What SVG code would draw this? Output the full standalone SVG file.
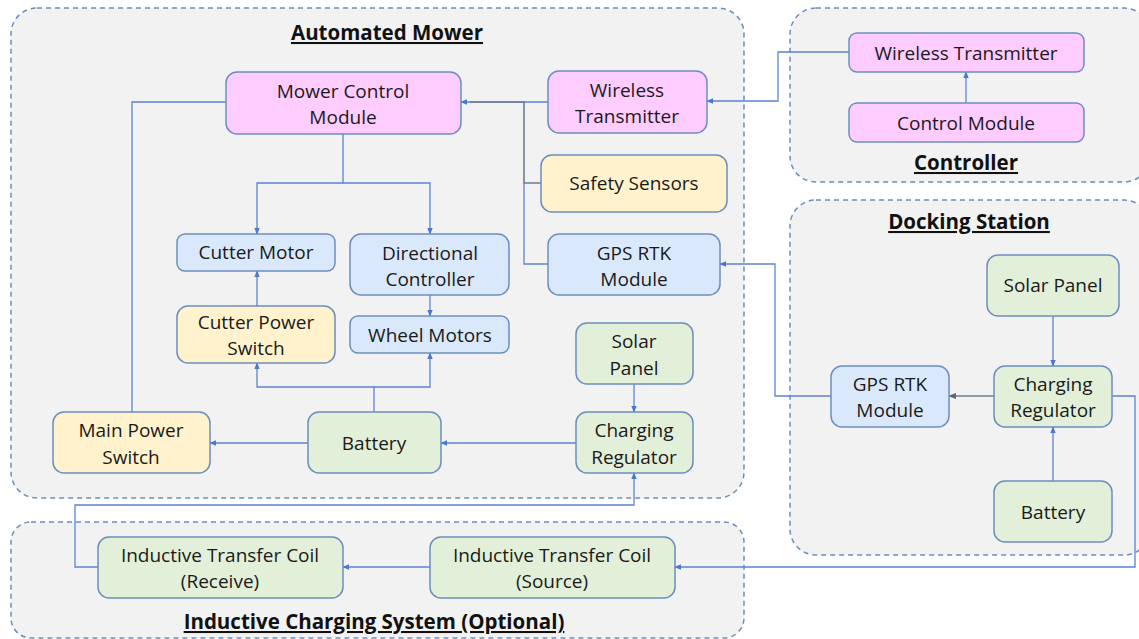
<svg xmlns="http://www.w3.org/2000/svg" width="1139" height="639" viewBox="0 0 1139 639">
<defs>
<style>
.grp{fill:#f2f2f2;stroke:#6c8ebf;stroke-width:1.5;stroke-dasharray:5 4}
.n{stroke:#6c8ebf;stroke-width:1.5}
.pink{fill:#ffccff}
.blue{fill:#dae8fc}
.yel{fill:#fff2cc}
.grn{fill:#e2efd9}
.t{font-family:"Open Sans","Liberation Sans",sans-serif;font-size:19px;fill:#1a1a1a;text-anchor:middle}
.h{font-family:"Open Sans","Liberation Sans",sans-serif;font-size:20.5px;font-weight:bold;fill:#111;text-anchor:middle;text-decoration:underline}
.c{fill:none;stroke:#5b84d0;stroke-width:1.3}
.g{fill:none;stroke:#6b7b95;stroke-width:1.6}
</style>
<marker id="a" viewBox="0 0 10 10" refX="9" refY="5" markerWidth="7" markerHeight="7" orient="auto-start-reverse" markerUnits="userSpaceOnUse"><path d="M0,1 L10,5 L0,9 z" fill="#4a78cc"/></marker>
<marker id="ag" viewBox="0 0 10 10" refX="9" refY="5" markerWidth="8" markerHeight="8" orient="auto" markerUnits="userSpaceOnUse"><path d="M0,1 L10,5 L0,9 z" fill="#5a6578"/></marker>
</defs>
<rect width="1139" height="639" fill="#ffffff"/>

<g id="containers">
<rect class="grp" x="11" y="8" width="733" height="490" rx="26"/>
<text class="h" x="387" y="40">Automated Mower</text>
<rect class="grp" x="790" y="8" width="360" height="174" rx="26"/>
<text class="h" x="966" y="170">Controller</text>
<rect class="grp" x="790" y="200" width="360" height="355" rx="26"/>
<text class="h" x="969" y="229">Docking Station</text>
<rect class="grp" x="11" y="522" width="733" height="116" rx="20"/>
<text class="h" x="374" y="629">Inductive Charging System (Optional)</text>
</g>

<g id="connectors">
<polyline class="c" points="849,52 778,52 778,101 707,101" marker-end="url(#a)"/>
<polyline class="c" points="548,102 461,102" marker-end="url(#a)"/>
<polyline class="g" points="541,183 524,183 524,102 470,102"/>
<polyline class="c" points="548,264 524,264 524,183"/>
<polyline class="c" points="343,134 343,183 257,183 257,234" marker-end="url(#a)"/>
<polyline class="c" points="343,183 430,183 430,234" marker-end="url(#a)"/>
<polyline class="c" points="430,295 430,316" marker-end="url(#a)"/>
<polyline class="c" points="257,306 257,271" marker-end="url(#a)"/>
<polyline class="c" points="374,412 374,387 257,387 257,363" marker-end="url(#a)"/>
<polyline class="c" points="374,387 430,387 430,353" marker-end="url(#a)"/>
<polyline class="c" points="308,443 210,443" marker-end="url(#a)"/>
<polyline class="c" points="576,443 441,443" marker-end="url(#a)"/>
<polyline class="c" points="634,384 634,412" marker-end="url(#a)"/>
<polyline class="c" points="132,412 132,102 226,102"/>
<polyline class="c" points="98,567 75,567 75,505 634,505 634,473" marker-end="url(#a)"/>
<polyline class="c" points="430,567 343,567" marker-end="url(#a)"/>
<polyline class="c" points="1112,396 1135,396 1135,567 675,567" marker-end="url(#a)"/>
<polyline class="g" points="994,396 949,396" marker-end="url(#ag)"/>
<polyline class="c" points="831,396 775,396 775,264 720,264" marker-end="url(#a)"/>
<polyline class="c" points="1053,316 1053,366" marker-end="url(#a)"/>
<polyline class="c" points="1053,481 1053,427" marker-end="url(#a)"/>
<polyline class="c" points="966,103 966,72" marker-end="url(#a)"/>
</g>

<g id="mower-control-module"><rect class="n pink" x="226" y="72" width="235" height="62" rx="11"/><text class="t" x="343" y="98">Mower Control</text><text class="t" x="343" y="124">Module</text></g>
<g id="mower-wireless-transmitter"><rect class="n pink" x="548" y="71" width="159" height="62" rx="11"/><text class="t" x="627" y="97">Wireless</text><text class="t" x="627" y="123">Transmitter</text></g>
<g id="safety-sensors"><rect class="n yel" x="541" y="155" width="186" height="57" rx="11"/><text class="t" x="634" y="190">Safety Sensors</text></g>
<g id="mower-gps"><rect class="n blue" x="548" y="234" width="172" height="61" rx="11"/><text class="t" x="634" y="260">GPS RTK</text><text class="t" x="634" y="286">Module</text></g>
<g id="cutter-motor"><rect class="n blue" x="177" y="234" width="158" height="37" rx="8"/><text class="t" x="256" y="259">Cutter Motor</text></g>
<g id="directional-controller"><rect class="n blue" x="350" y="234" width="159" height="61" rx="11"/><text class="t" x="430" y="260">Directional</text><text class="t" x="430" y="286">Controller</text></g>
<g id="cutter-power-switch"><rect class="n yel" x="177" y="306" width="158" height="57" rx="11"/><text class="t" x="256" y="329">Cutter Power</text><text class="t" x="256" y="355">Switch</text></g>
<g id="wheel-motors"><rect class="n blue" x="350" y="316" width="159" height="37" rx="8"/><text class="t" x="430" y="342">Wheel Motors</text></g>
<g id="mower-solar-panel"><rect class="n grn" x="576" y="323" width="117" height="61" rx="11"/><text class="t" x="634" y="348">Solar</text><text class="t" x="634" y="375">Panel</text></g>
<g id="main-power-switch"><rect class="n yel" x="53" y="412" width="157" height="61" rx="11"/><text class="t" x="131" y="437">Main Power</text><text class="t" x="131" y="464">Switch</text></g>
<g id="mower-battery"><rect class="n grn" x="308" y="412" width="133" height="61" rx="11"/><text class="t" x="374" y="450">Battery</text></g>
<g id="mower-charging-regulator"><rect class="n grn" x="576" y="412" width="117" height="61" rx="11"/><text class="t" x="634" y="437">Charging</text><text class="t" x="634" y="464">Regulator</text></g>

<g id="ctrl-wireless-transmitter"><rect class="n pink" x="849" y="33" width="235" height="39" rx="8"/><text class="t" x="966" y="60">Wireless Transmitter</text></g>
<g id="ctrl-control-module"><rect class="n pink" x="849" y="103" width="235" height="39" rx="8"/><text class="t" x="966" y="130">Control Module</text></g>

<g id="dock-solar-panel"><rect class="n grn" x="987" y="255" width="132" height="61" rx="11"/><text class="t" x="1053" y="292">Solar Panel</text></g>
<g id="dock-charging-regulator"><rect class="n grn" x="994" y="366" width="118" height="61" rx="11"/><text class="t" x="1053" y="391">Charging</text><text class="t" x="1053" y="417">Regulator</text></g>
<g id="dock-gps"><rect class="n blue" x="831" y="366" width="118" height="61" rx="11"/><text class="t" x="890" y="391">GPS RTK</text><text class="t" x="890" y="417">Module</text></g>
<g id="dock-battery"><rect class="n grn" x="994" y="481" width="118" height="61" rx="11"/><text class="t" x="1053" y="519">Battery</text></g>

<g id="coil-receive"><rect class="n grn" x="98" y="537" width="245" height="61" rx="11"/><text class="t" x="220" y="562">Inductive Transfer Coil</text><text class="t" x="220" y="588">(Receive)</text></g>
<g id="coil-source"><rect class="n grn" x="430" y="537" width="245" height="61" rx="11"/><text class="t" x="552" y="562">Inductive Transfer Coil</text><text class="t" x="552" y="588">(Source)</text></g>
</svg>
